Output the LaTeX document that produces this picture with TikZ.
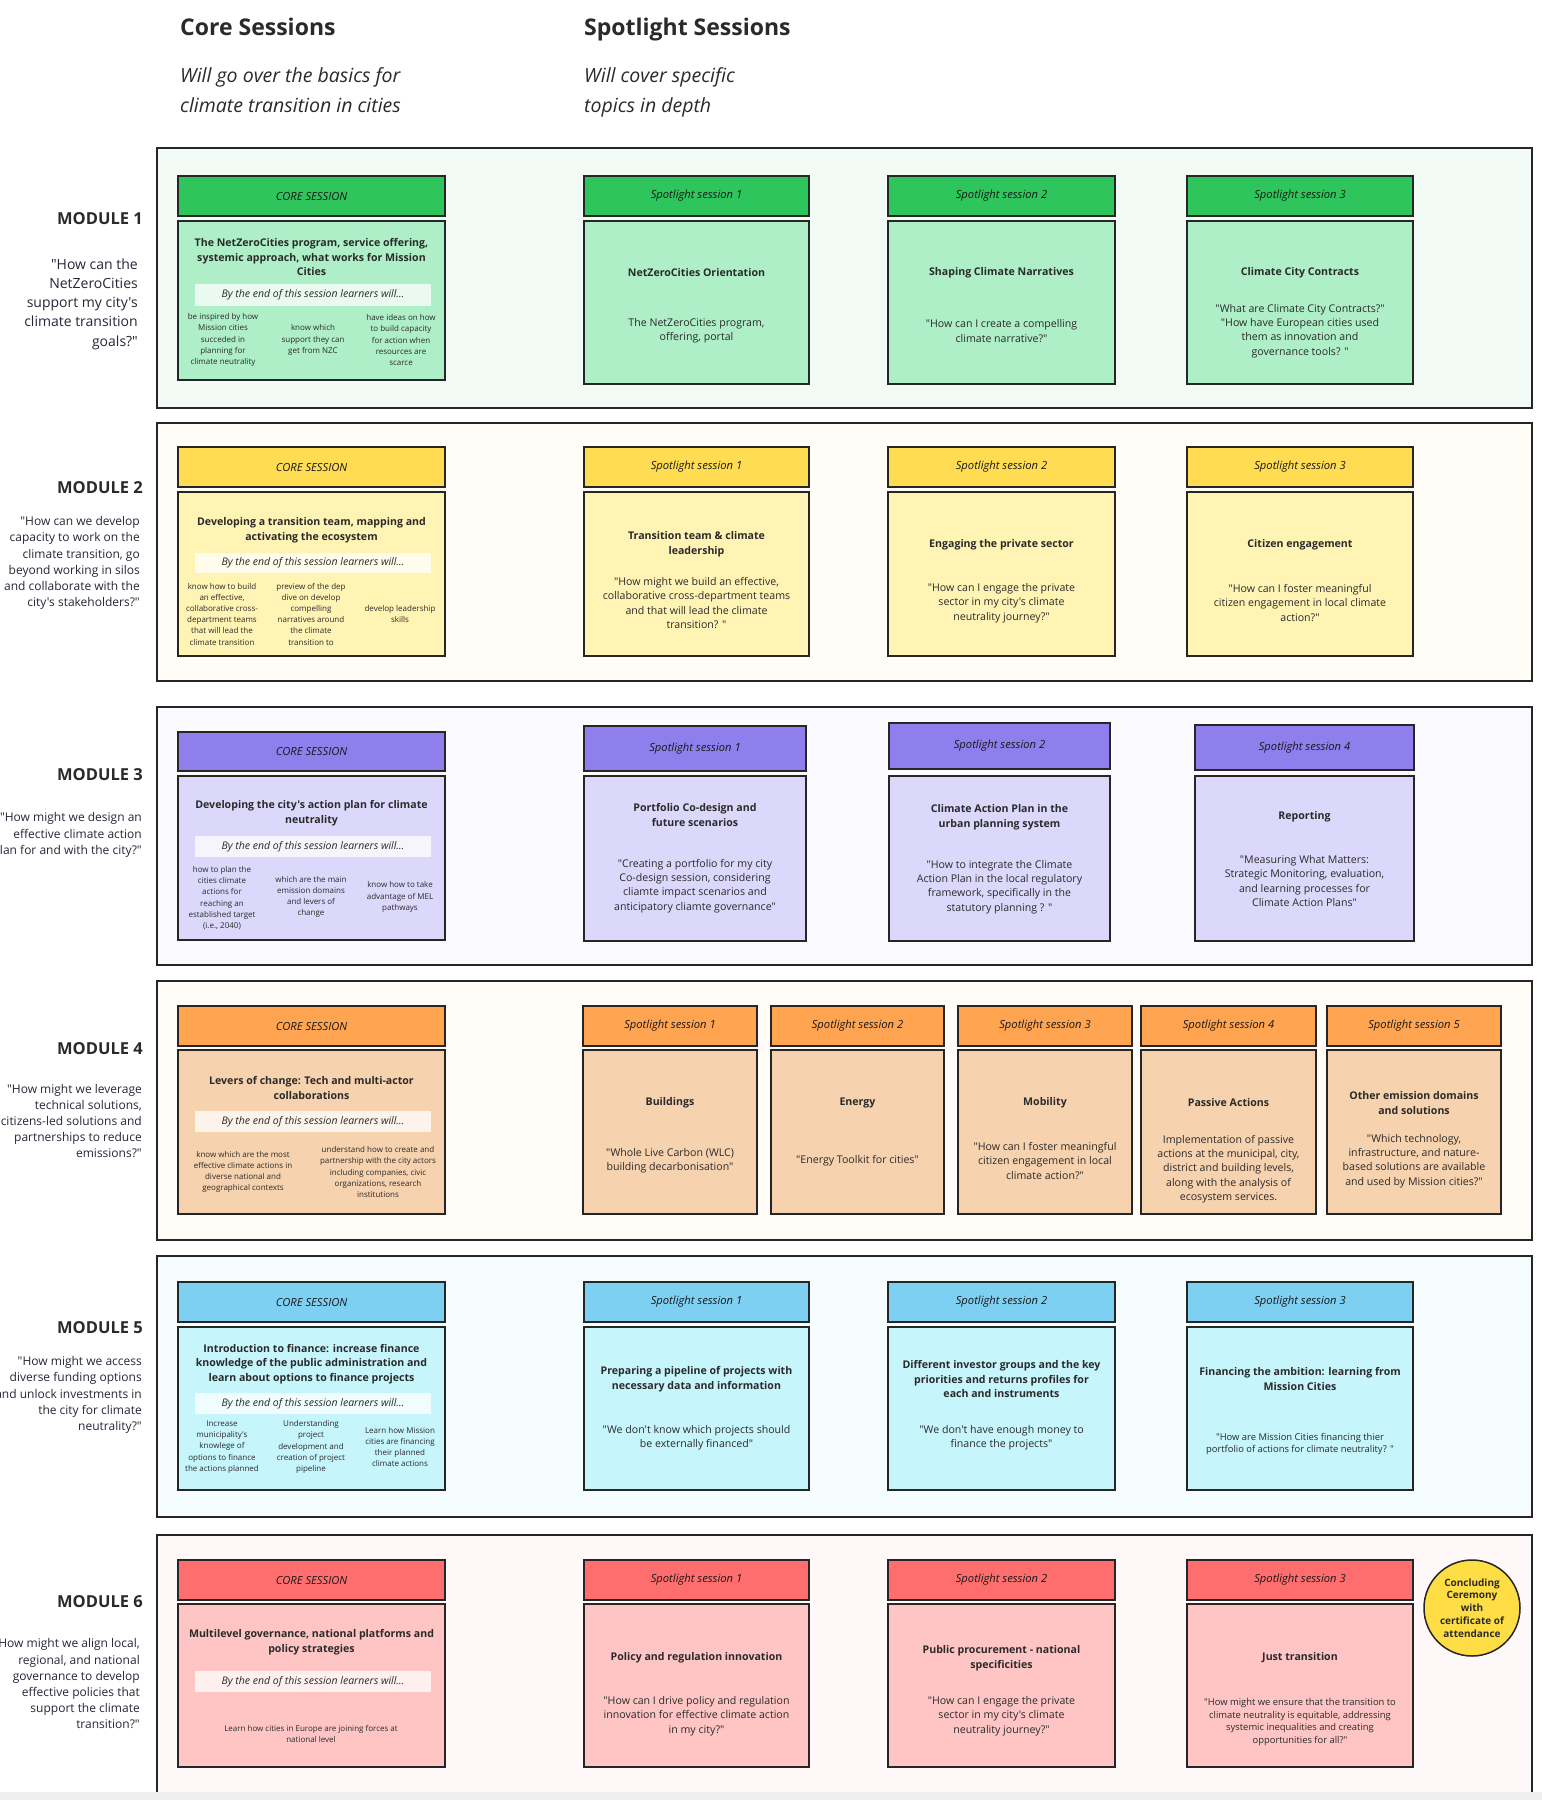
\documentclass[tikz,border=0pt]{standalone}
\usepackage{fontspec}
\setmainfont{Open Sans}[Ligatures=TeXOff]
\usetikzlibrary{fit}
\definecolor{linec}{HTML}{262626}
\definecolor{txt}{HTML}{2A2A2A}
\definecolor{txtq}{HTML}{252838}
\definecolor{gH}{HTML}{2EC65C}\definecolor{gB}{HTML}{AEEFC8}\definecolor{gC}{HTML}{F3FBF6}
\definecolor{yH}{HTML}{FFDC52}\definecolor{yB}{HTML}{FFF4B3}\definecolor{yC}{HTML}{FFFDF5}
\definecolor{pH}{HTML}{8F7FEC}\definecolor{pB}{HTML}{DCD8FC}\definecolor{pC}{HTML}{FAFAFF}
\definecolor{oH}{HTML}{FFA552}\definecolor{oB}{HTML}{F7D2AE}\definecolor{oC}{HTML}{FFFBF7}
\definecolor{bH}{HTML}{7ED0F2}\definecolor{bB}{HTML}{C6F5FC}\definecolor{bC}{HTML}{F6FDFF}
\definecolor{rH}{HTML}{FF6E6E}\definecolor{rB}{HTML}{FFC5C4}\definecolor{rC}{HTML}{FFF8F8}
\definecolor{circY}{HTML}{FFDD44}
\definecolor{bandc}{HTML}{EFEFEF}
\newcommand\fs[2]{\fontsize{#1}{#2}\selectfont}
\newcommand\Spot[9]{\node[hdr,fill=#8,fit={(#2,#4)(#3,#5)}] (#1h) {};\node[bdy,fill=#9,fit={(#2,#6)(#3,#7)}] (#1b) {};}
\newcommand\HT[2]{\node[htxt] (#1t) at (#1) {#2};}
\newcommand\Strip[3]{\node[strip,fit={(195,#2)(431,#3)}] (#1) {};\node[stxt] (#1t) at (#1) {By the end of this session learners will…};}
\begin{document}
\begin{tikzpicture}[x=1pt,y=-1pt,
  cont/.style={draw=linec,line width=1.3pt,inner sep=0pt},
  hdr/.style={draw=linec,line width=1.8pt,inner sep=0pt},
  bdy/.style={draw=linec,line width=1.8pt,inner sep=0pt},
  strip/.style={fill=white,fill opacity=0.75,draw=none,inner sep=0pt},
  stxt/.style={font=\fs{10.5}{12}\itshape,text=txt,inner sep=0pt},
  htxt/.style={font=\fs{11.2}{13}\itshape,text=black!90,inner sep=0pt},
  ttl/.style={font=\fs{10.6}{14.5}\bfseries,align=center,text=txt,inner sep=0pt},
  qt/.style={font=\fs{10.6}{14.3},align=center,text=txt,inner sep=0pt},
  qts/.style={font=\fs{9.4}{12.8},align=center,text=txt,inner sep=0pt},
  bl/.style={font=\fs{8}{11.2},align=center,text=txt,inner sep=0pt},
  mlab/.style={font=\fs{16.5}{20}\bfseries,anchor=east,text=txt,inner sep=0pt},
  mq/.style={font=\fs{12}{16.2},align=right,anchor=east,text=txtq,inner sep=0pt},
  circ/.style={circle,draw=linec,line width=1.5pt,fill=circY,minimum size=96pt,inner sep=0pt,font=\fs{10}{12.8}\bfseries,align=center,text=txt}]
\useasboundingbox (0,0) rectangle (1542,1800);
\fill[white] (0,0) rectangle (1542,1800);

% ---------- column headings ----------
\node[font=\fs{23}{28}\bfseries,anchor=base west,inner sep=0pt,text=txt] (hcore) at (180,35) {Core Sessions};
\node[font=\fs{23}{28}\bfseries,anchor=base west,inner sep=0pt,text=txt] (hspot) at (584,35) {Spotlight Sessions};
\node[font=\fs{19.5}{30}\itshape,anchor=base west,align=left,inner sep=0pt,text=txt] (score) at (180,112) {Will go over the basics for\\climate transition in cities};
\node[font=\fs{19.5}{30}\itshape,anchor=base west,align=left,inner sep=0pt,text=txt] (sspot) at (584,112) {Will cover specific\\topics in depth};

% ================= MODULE 1 =================
\node[cont,fill=gC,fit={(157,148)(1532,408)}] (m1) {};
\node[mlab] (m1l) at (143,219) {MODULE 1};
\node[mq,font=\fs{14}{19.2}] (m1q) at (138,304) {"How can the\\NetZeroCities\\support my city's\\climate transition\\goals?"};
\Spot{m1c}{178}{445}{176}{216}{221}{380}{gH}{gB}
\HT{m1ch}{CORE SESSION}
\node[ttl] (m1ct) at (311.5,257) {The NetZeroCities program, service offering,\\systemic approach, what works for Mission\\Cities};
\Strip{m1s}{284}{306}
\node[bl] (m1b1) at (223,340) {be inspired by how\\Mission cities\\succeded in\\planning for\\climate neutrality};
\node[bl] (m1b2) at (313,340) {know which\\support they can\\get from NZC};
\node[bl] (m1b3) at (401,340) {have ideas on how\\to build capacity\\for action when\\resources are\\scarce};
\Spot{m1a}{584}{809}{176}{216}{221}{384}{gH}{gB}
\HT{m1ah}{Spotlight session 1}
\node[ttl] (m1at) at (696.5,273) {NetZeroCities Orientation};
\node[qt] (m1aq) at (696.5,331) {The NetZeroCities program,\\offering, portal};
\Spot{m1b}{888}{1115}{176}{216}{221}{384}{gH}{gB}
\HT{m1bh}{Spotlight session 2}
\node[ttl] (m1bt) at (1001.5,273) {Shaping Climate Narratives};
\node[qt] (m1bq) at (1001.5,331) {"How can I create a compelling\\climate narrative?"};
\Spot{m1d}{1187}{1413}{176}{216}{221}{384}{gH}{gB}
\HT{m1dh}{Spotlight session 3}
\node[ttl] (m1dt) at (1300,273) {Climate City Contracts};
\node[qt] (m1dq) at (1300,331) {"What are Climate City Contracts?"\\"How have European cities used\\them as innovation and\\governance tools? "};

% ================= MODULE 2 =================
\node[cont,fill=yC,fit={(157,423)(1532,681)}] (m2) {};
\node[mlab] (m2l) at (143,488) {MODULE 2};
\node[mq] (m2q) at (140,563) {"How can we develop\\capacity to work on the\\climate transition, go\\beyond working in silos\\and collaborate with the\\city's stakeholders?"};
\Spot{m2c}{178}{445}{447}{487}{492}{656}{yH}{yB}
\HT{m2ch}{CORE SESSION}
\node[ttl] (m2ct) at (311.5,530) {Developing a transition team, mapping and\\activating the ecosystem};
\Strip{m2s}{553}{573}
\node[bl] (m2b1) at (222,614) {know how to build\\an effective,\\collaborative cross-\\department teams\\that will lead the\\climate transition};
\node[bl] (m2b2) at (311,614) {preview of the dep\\dive on develop\\compelling\\narratives around\\the climate\\transition to};
\node[bl] (m2b3) at (400,614) {develop leadership\\skills};
\Spot{m2a}{584}{809}{447}{487}{492}{656}{yH}{yB}
\HT{m2ah}{Spotlight session 1}
\node[ttl] (m2at) at (696.5,544) {Transition team \& climate\\leadership};
\node[qt] (m2aq) at (696.5,603) {"How might we build an effective,\\collaborative cross-department teams\\and that will lead the climate\\transition? "};
\Spot{m2b}{888}{1115}{447}{487}{492}{656}{yH}{yB}
\HT{m2bh}{Spotlight session 2}
\node[ttl] (m2bt) at (1001.5,545) {Engaging the private sector};
\node[qt] (m2bq) at (1001.5,603) {"How can I engage the private\\sector in my city's climate\\neutrality journey?"};
\Spot{m2d}{1187}{1413}{447}{487}{492}{656}{yH}{yB}
\HT{m2dh}{Spotlight session 3}
\node[ttl] (m2dt) at (1300,545) {Citizen engagement};
\node[qt] (m2dq) at (1300,603) {"How can I foster meaningful\\citizen engagement in local climate\\action?"};

% ================= MODULE 3 =================
\node[cont,fill=pC,fit={(157,707)(1532,965)}] (m3) {};
\node[mlab] (m3l) at (143,775) {MODULE 3};
\node[mq] (m3q) at (142,835) {"How might we design an\\effective climate action\\plan for and with the city?"};
\Spot{m3c}{178}{445}{732}{771}{776}{940}{pH}{pB}
\HT{m3ch}{CORE SESSION}
\node[ttl] (m3ct) at (311.5,813) {Developing the city's action plan for climate\\neutrality};
\Strip{m3s}{836}{857}
\node[bl] (m3b1) at (222,898) {how to plan the\\cities climate\\actions for\\reaching an\\established target\\(i.e., 2040)};
\node[bl] (m3b2) at (311,897) {which are the main\\emission domains\\and levers of\\change};
\node[bl] (m3b3) at (400,897) {know how to take\\advantage of MEL\\pathways};
\Spot{m3a}{584}{806}{726}{771}{776}{941}{pH}{pB}
\HT{m3ah}{Spotlight session 1}
\node[ttl] (m3at) at (695,815) {Portfolio Co-design and\\future scenarios};
\node[qt] (m3aq) at (695,886) {"Creating a portfolio for my city\\Co-design session, considering\\cliamte impact scenarios and\\anticipatory cliamte governance"};
\Spot{m3b}{889}{1110}{723}{769}{776}{941}{pH}{pB}
\HT{m3bh}{Spotlight session 2}
\node[ttl] (m3bt) at (999.5,817) {Climate Action Plan in the\\urban planning system};
\node[qt] (m3bq) at (999.5,887) {"How to integrate the Climate\\Action Plan in the local regulatory\\framework, specifically in the\\statutory planning ? "};
\Spot{m3d}{1195}{1414}{725}{770}{776}{941}{pH}{pB}
\HT{m3dh}{Spotlight session 4}
\node[ttl] (m3dt) at (1304.5,817) {Reporting};
\node[qt] (m3dq) at (1304.5,881) {"Measuring What Matters:\\Strategic Monitoring, evaluation,\\and learning processes for\\Climate Action Plans"};

% ================= MODULE 4 =================
\node[cont,fill=oC,fit={(157,981)(1532,1240)}] (m4) {};
\node[mlab] (m4l) at (143,1049) {MODULE 4};
\node[mq] (m4q) at (142,1121) {"How might we leverage\\technical solutions,\\citizens-led solutions and\\partnerships to reduce\\emissions?"};
\Spot{m4c}{178}{445}{1006}{1046}{1050}{1214}{oH}{oB}
\HT{m4ch}{CORE SESSION}
\node[ttl] (m4ct) at (311.5,1088) {Levers of change: Tech and multi-actor\\collaborations};
\Strip{m4s}{1111}{1132}
\node[bl] (m4b1) at (243,1172) {know which are the most\\effective climate actions in\\diverse national and\\geographical contexts};
\node[bl] (m4b2) at (378,1172) {understand how to create and\\partnership with the city actors\\including companies, civic\\organizations, research\\institutions};
\Spot{m4a}{583}{757}{1006}{1046}{1050}{1214}{oH}{oB}
\HT{m4ah}{Spotlight session 1}
\node[ttl] (m4at) at (670,1103) {Buildings};
\node[qt] (m4aq) at (670,1161) {"Whole Live Carbon (WLC)\\building decarbonisation"};
\Spot{m4b}{771}{944}{1006}{1046}{1050}{1214}{oH}{oB}
\HT{m4bh}{Spotlight session 2}
\node[ttl] (m4bt) at (857.5,1103) {Energy};
\node[qt] (m4bq) at (857.5,1161) {"Energy Toolkit for cities"};
\Spot{m4d}{958}{1132}{1006}{1046}{1050}{1214}{oH}{oB}
\HT{m4dh}{Spotlight session 3}
\node[ttl] (m4dt) at (1045,1103) {Mobility};
\node[qt] (m4dq) at (1045,1161) {"How can I foster meaningful\\citizen engagement in local\\climate action?"};
\Spot{m4e}{1141}{1316}{1006}{1046}{1050}{1214}{oH}{oB}
\HT{m4eh}{Spotlight session 4}
\node[ttl] (m4et) at (1228.5,1103) {Passive Actions};
\node[qt] (m4eq) at (1228.5,1169) {Implementation of passive\\actions at the municipal, city,\\district and building levels,\\along with the analysis of\\ecosystem services.};
\Spot{m4f}{1327}{1501}{1006}{1046}{1050}{1214}{oH}{oB}
\HT{m4fh}{Spotlight session 5}
\node[ttl] (m4ft) at (1414,1103) {Other emission domains\\and solutions};
\node[qt] (m4fq) at (1414,1161) {"Which technology,\\infrastructure, and nature-\\based solutions are available\\and used by Mission cities?"};

% ================= MODULE 5 =================
\node[cont,fill=bC,fit={(157,1256)(1532,1517)}] (m5) {};
\node[mlab] (m5l) at (143,1328) {MODULE 5};
\node[mq] (m5q) at (142,1395) {"How might we access\\diverse funding options\\and unlock investments in\\the city for climate\\neutrality?"};
\Spot{m5c}{178}{445}{1282}{1322}{1327}{1490}{bH}{bB}
\HT{m5ch}{CORE SESSION}
\node[ttl] (m5ct) at (311.5,1364) {Introduction to finance: increase finance\\knowledge of the public administration and\\learn about options to finance projects};
\Strip{m5s}{1393}{1414}
\node[bl] (m5b1) at (222,1447) {Increase\\municipality's\\knowlege of\\options to finance\\the actions planned};
\node[bl] (m5b2) at (311,1447) {Understanding\\project\\development and\\creation of project\\pipeline};
\node[bl] (m5b3) at (400,1447) {Learn how Mission\\cities are financing\\their planned\\climate actions};
\Spot{m5a}{584}{809}{1282}{1322}{1327}{1490}{bH}{bB}
\HT{m5ah}{Spotlight session 1}
\node[ttl] (m5at) at (696.5,1379) {Preparing a pipeline of projects with\\necessary data and information};
\node[qt] (m5aq) at (696.5,1438) {"We don't know which projects should\\be externally financed"};
\Spot{m5b}{888}{1115}{1282}{1322}{1327}{1490}{bH}{bB}
\HT{m5bh}{Spotlight session 2}
\node[ttl] (m5bt) at (1001.5,1379) {Different investor groups and the key\\priorities and returns profiles for\\each and instruments};
\node[qt] (m5bq) at (1001.5,1438) {"We don't have enough money to\\finance the projects"};
\Spot{m5d}{1187}{1413}{1282}{1322}{1327}{1490}{bH}{bB}
\HT{m5dh}{Spotlight session 3}
\node[ttl] (m5dt) at (1300,1379) {Financing the ambition: learning from\\Mission Cities};
\node[qts] (m5dq) at (1300,1444) {"How are Mission Cities financing thier\\portfolio of actions for climate neutrality? "};

% ================= MODULE 6 =================
\node[cont,fill=rC,fit={(157,1535)(1532,1800)}] (m6) {};
\node[mlab] (m6l) at (143,1602) {MODULE 6};
\node[mq] (m6q) at (140,1684) {"How might we align local,\\regional, and national\\governance to develop\\effective policies that\\support the climate\\transition?"};
\Spot{m6c}{178}{445}{1560}{1600}{1604}{1767}{rH}{rB}
\HT{m6ch}{CORE SESSION}
\node[ttl] (m6ct) at (311.5,1642) {Multilevel governance, national platforms and\\policy strategies};
\Strip{m6s}{1671}{1692}
\node[bl] (m6b1) at (311,1734) {Learn how cities in Europe are joining forces at\\national level};
\Spot{m6a}{584}{809}{1560}{1600}{1604}{1767}{rH}{rB}
\HT{m6ah}{Spotlight session 1}
\node[ttl] (m6at) at (696.5,1658) {Policy and regulation innovation};
\node[qt] (m6aq) at (696.5,1716) {"How can I drive policy and regulation\\innovation for effective climate action\\in my city?"};
\Spot{m6b}{888}{1115}{1560}{1600}{1604}{1767}{rH}{rB}
\HT{m6bh}{Spotlight session 2}
\node[ttl] (m6bt) at (1001.5,1658) {Public procurement - national\\specificities};
\node[qt] (m6bq) at (1001.5,1716) {"How can I engage the private\\sector in my city's climate\\neutrality journey?"};
\Spot{m6d}{1187}{1413}{1560}{1600}{1604}{1767}{rH}{rB}
\HT{m6dh}{Spotlight session 3}
\node[ttl] (m6dt) at (1300,1658) {Just transition};
\node[qts] (m6dq) at (1300,1722) {"How might we ensure that the transition to\\climate neutrality is equitable, addressing\\systemic inequalities and creating\\opportunities for all?"};
\node[circ] (cer) at (1472,1608) {Concluding\\Ceremony\\with\\certificate of\\attendance};

\fill[bandc] (0,1792) rectangle (1542,1800);
\end{tikzpicture}
\end{document}
